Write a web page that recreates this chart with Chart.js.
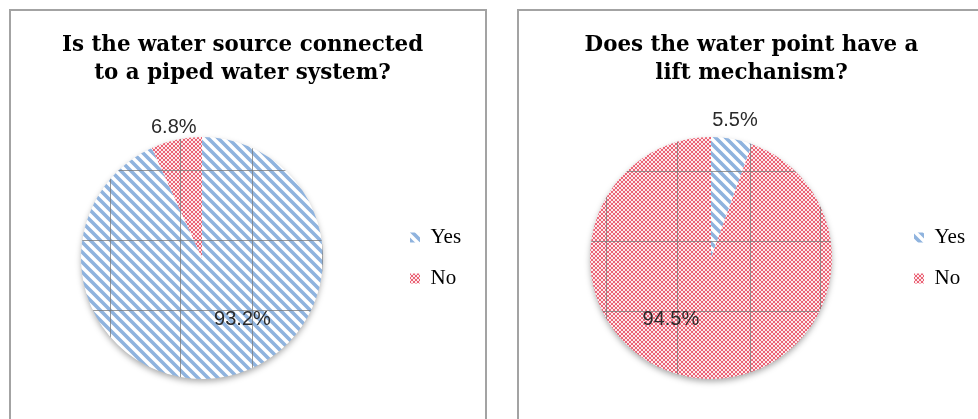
<!DOCTYPE html>
<html><head><meta charset="utf-8">
<script src="https://cdn.jsdelivr.net/npm/chart.js@4.4.1/dist/chart.umd.min.js"></script>
<style>
html,body{margin:0;padding:0;background:#fff;width:978px;height:419px;overflow:hidden;}
.panel{position:absolute;top:9px;height:440px;border:2px solid #a3a3a3;box-sizing:border-box;}
#p1{left:9px;width:478px;}
#p2{left:517px;width:480px;}
canvas{position:absolute;}
#c1{left:11px;top:11px;}
#c2{left:519px;top:11px;}
</style></head><body>
<div class="panel" id="p1"></div><div class="panel" id="p2"></div>
<canvas id="c1" width="473" height="408"></canvas>
<canvas id="c2" width="460" height="408"></canvas>
<script>
const categories = ['Yes', 'No'];
const pipedValues = [93.2, 6.8];
const liftValues = [5.5, 94.5];
const pipedTitle = ['Is the water source connected', 'to a piped water system?'];
const liftTitle = ['Does the water point have a', 'lift mechanism?'];

const LEG_FONT = "'Liberation Serif', serif";
const LEG_SIZE = 21, LEG_BOX = 10, LEG_PAD = 20;

function stripePattern(ctx){
  const c=document.createElement('canvas'); c.width=10; c.height=10;
  const x=c.getContext('2d');
  x.fillStyle='#fff'; x.fillRect(0,0,10,10);
  x.strokeStyle='#8fb3de'; x.lineWidth=3.6;
  x.beginPath();
  x.moveTo(-5,-5); x.lineTo(15,15);
  x.moveTo(-5,5); x.lineTo(5,15);
  x.moveTo(5,-5); x.lineTo(15,5);
  x.stroke();
  return ctx.createPattern(c,'repeat');
}
function dotPattern(ctx){
  const c=document.createElement('canvas'); c.width=4; c.height=4;
  const x=c.getContext('2d');
  x.fillStyle='#fde9ec'; x.fillRect(0,0,4,4);
  x.fillStyle='#ea6476';
  x.fillRect(0,0,2,2); x.fillRect(2,2,2,2);
  return ctx.createPattern(c,'repeat');
}
function legendWidth(){
  const m=document.createElement('canvas').getContext('2d');
  m.font=LEG_SIZE+"px "+LEG_FONT;
  const tw=Math.max(...categories.map(t=>m.measureText(t).width));
  return LEG_PAD + LEG_BOX + LEG_SIZE/2 + tw + 10;
}

const shadowPlugin={
  id:'pieShadow',
  beforeDatasetsDraw(chart){
    const a=chart.getDatasetMeta(0).data[0]; if(!a) return;
    const ctx=chart.ctx; ctx.save();
    ctx.shadowColor='rgba(0,0,0,0.35)'; ctx.shadowBlur=6; ctx.shadowOffsetY=3;
    ctx.fillStyle='#fff'; ctx.beginPath(); ctx.arc(a.x,a.y,a.outerRadius-0.5,0,Math.PI*2); ctx.fill();
    ctx.restore();
  }
};
const gridPlugin={
  id:'pieGrid',
  afterDatasetsDraw(chart,args,opts){
    const a=chart.getDatasetMeta(0).data[0]; if(!a) return;
    const ctx=chart.ctx, cx=a.x, cy=a.y, r=a.outerRadius;
    ctx.save(); ctx.beginPath(); ctx.arc(cx,cy,r,0,Math.PI*2); ctx.clip();
    ctx.strokeStyle='rgba(120,120,120,0.75)'; ctx.lineWidth=1;
    ctx.beginPath();
    (opts.vx||[]).forEach(dx=>{const p=Math.round(cx+dx)+0.5; ctx.moveTo(p,cy-r); ctx.lineTo(p,cy+r);});
    (opts.hy||[]).forEach(dy=>{const p=Math.round(cy+dy)+0.5; ctx.moveTo(cx-r,p); ctx.lineTo(cx+r,p);});
    ctx.stroke(); ctx.restore();
  }
};
const labelPlugin={
  id:'pieLabels',
  afterDatasetsDraw(chart,args,opts){
    const meta=chart.getDatasetMeta(0), ctx=chart.ctx;
    ctx.save();
    ctx.font="20px 'Liberation Sans', sans-serif"; ctx.fillStyle='#2a2a2a';
    ctx.textAlign='center'; ctx.textBaseline='middle';
    meta.data.forEach((arc,i)=>{
      const p=arc.getProps(['x','y','startAngle','endAngle','outerRadius'],true);
      const mid=(p.startAngle+p.endAngle)/2+(opts.shift[i]||0)*Math.PI/180;
      const r=p.outerRadius*opts.radial[i];
      const v=chart.data.datasets[0].data[i];
      ctx.fillText(v.toFixed(1)+'%', p.x+Math.cos(mid)*r, p.y+Math.sin(mid)*r);
    });
    ctx.restore();
  }
};

function makeChart(id, values, title, legendLeft, centerX, grid, lab){
  const canvas=document.getElementById(id);
  const ctx=canvas.getContext('2d');
  const lw=legendWidth();
  const padL=2*centerX-legendLeft;
  const padR=canvas.width-legendLeft-lw;
  return new Chart(ctx,{
    type:'pie',
    data:{labels:categories,datasets:[{data:values,backgroundColor:[stripePattern(ctx),dotPattern(ctx)],borderWidth:0,hoverOffset:0}]},
    options:{
      responsive:false, animation:false, devicePixelRatio:1,
      layout:{padding:{left:padL,right:padR,top:0,bottom:40}},
      plugins:{
        title:{display:true,text:title,color:'#000',
          font:{family:"'DejaVu Serif', serif",weight:'bold',size:21.4,lineHeight:28/21.4},
          padding:{top:20,bottom:50}},
        legend:{position:'right',fullSize:false,labels:{boxWidth:LEG_BOX,boxHeight:LEG_BOX,padding:LEG_PAD,color:'#000',
          font:{family:LEG_FONT,size:LEG_SIZE}}},
        tooltip:{enabled:false},
        pieGrid:grid,
        pieLabels:lab
      }
    },
    plugins:[shadowPlugin,gridPlugin,labelPlugin]
  });
}

makeChart('c1', pipedValues, pipedTitle, 379, 191,
  {vx:[-92,-22,50,120], hy:[-88,-18,52]},
  {radial:[0.61,1.1], shift:[-21,0]});
makeChart('c2', liftValues, liftTitle, 375, 192,
  {vx:[-105,-34,39,109], hy:[-87,-17,53]},
  {radial:[1.15,0.61], shift:[0,23]});
</script>
</body></html>
